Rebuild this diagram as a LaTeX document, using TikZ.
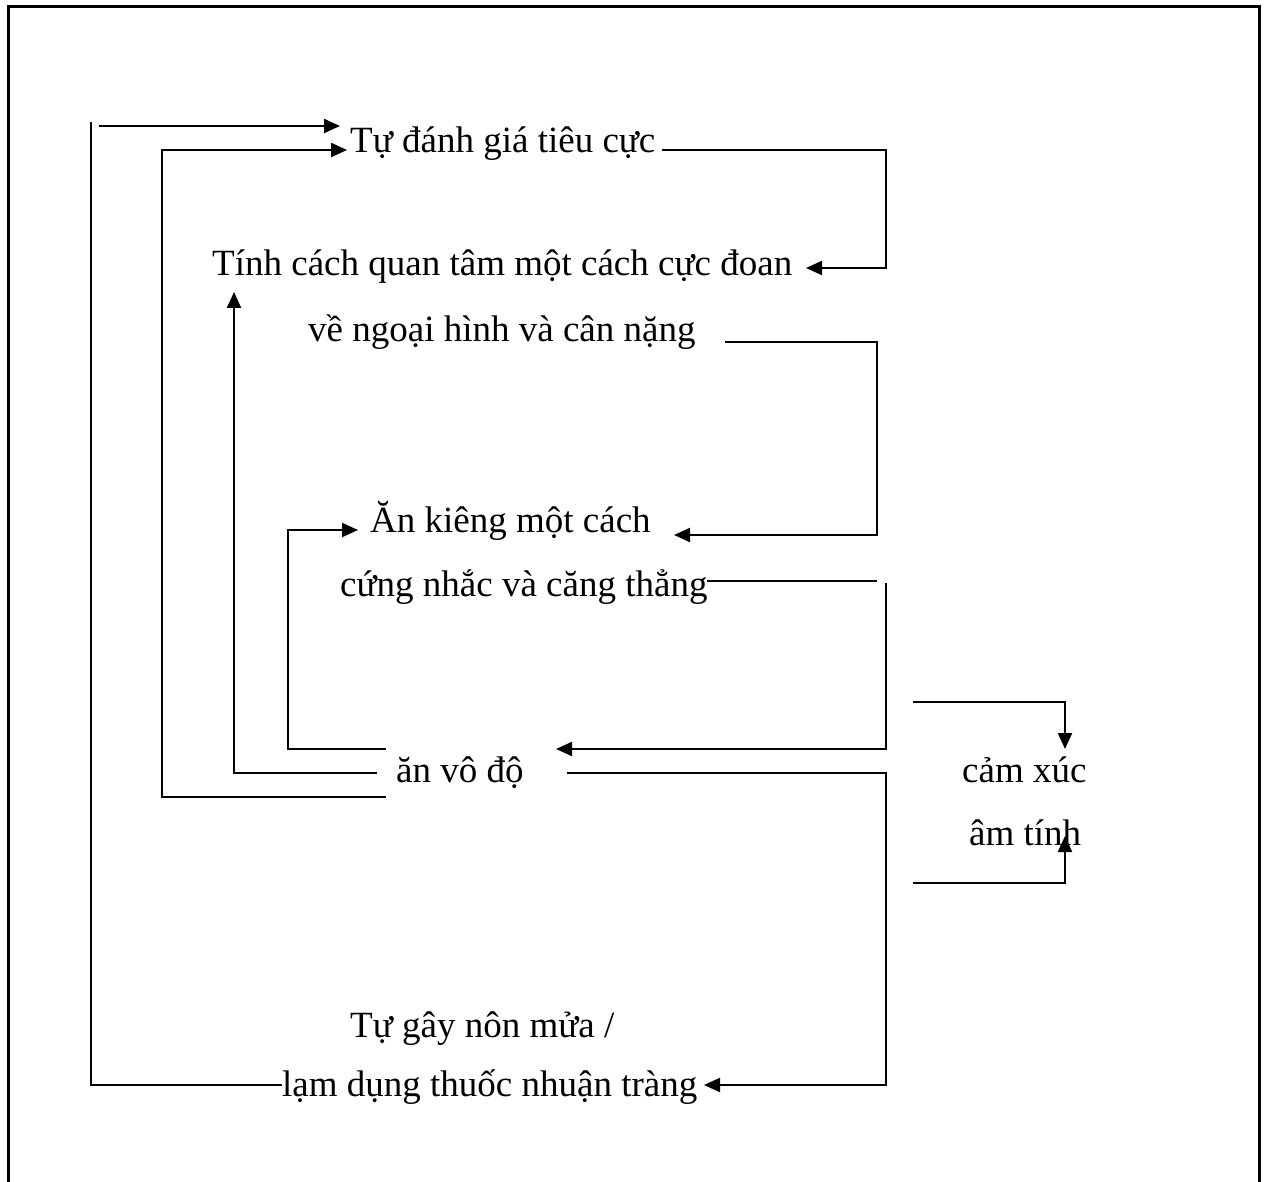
\documentclass[tikz,border=0pt]{standalone}
\usepackage{fontspec}
\setmainfont{Liberation Serif}
\usetikzlibrary{arrows.meta}
\begin{document}
\begin{tikzpicture}[x=1pt,y=-1pt,
  conn/.style={line width=2.2pt},
  arr/.style={conn,-{Triangle[length=16pt,width=14pt]}},
  lbl/.style={anchor=base west,inner sep=0pt,font=\fontsize{37}{44}\selectfont}]
\useasboundingbox (0,0) rectangle (1267,1182);
\draw[line width=3pt] (8,1182) -- (8,7) -- (1259,7) -- (1259,1182);
% labels
\node[lbl] (t1) at (350,153) {Tự đánh giá tiêu cực};
\node[lbl] (t2) at (212,276) {Tính cách quan tâm một cách cực đoan};
\node[lbl] (t3) at (308,342) {về ngoại hình và cân nặng};
\node[lbl] (t4) at (370,532) {Ăn kiêng một cách};
\node[lbl] (t5) at (340,596) {cứng nhắc và căng thẳng};
\node[lbl] (t6) at (396,782) {ăn vô độ};
\node[lbl] (t7) at (962,782) {cảm xúc};
\node[lbl] (t8) at (969,845) {âm tính};
\node[lbl] (t9) at (350,1037) {Tự gây nôn mửa /};
\node[lbl] (t10) at (282,1096) {lạm dụng thuốc nhuận tràng};
% endpoints
\coordinate (a1s) at (99,126);   \coordinate (a1e) at (340,126);
\coordinate (a2e) at (347,150);
\coordinate (a3s) at (662,150);  \coordinate (a3e) at (806,268);
\coordinate (a4e) at (234,292);
\coordinate (a5e) at (358,530);
\coordinate (a6s) at (725,342);  \coordinate (a6e) at (674,535);
\coordinate (a7e) at (556,749);
\coordinate (a8s) at (567,773);  \coordinate (a8e) at (704,1085);
\coordinate (a9e) at (1065,749);
\coordinate (a10e) at (1065,836);
% connectors
\draw[conn] (282,1085) -- (91,1085) -- (91,122);
\draw[arr] (a1s) -- (a1e);
\draw[arr] (386,797) -- (162,797) -- (162,150) -- (a2e);
\draw[arr] (a3s) -- (886,150) -- (886,268) -- (a3e);
\draw[arr] (377,773) -- (234,773) -- (a4e);
\draw[arr] (386,749) -- (288,749) -- (288,530) -- (a5e);
\draw[arr] (a6s) -- (877,342) -- (877,535) -- (a6e);
\draw[conn] (707,581) -- (877,581);
\draw[arr] (886,583) -- (886,749) -- (a7e);
\draw[arr] (a8s) -- (886,773) -- (886,1085) -- (a8e);
\draw[arr] (913,702) -- (1065,702) -- (a9e);
\draw[arr] (913,883) -- (1065,883) -- (a10e);
\end{tikzpicture}
\end{document}
